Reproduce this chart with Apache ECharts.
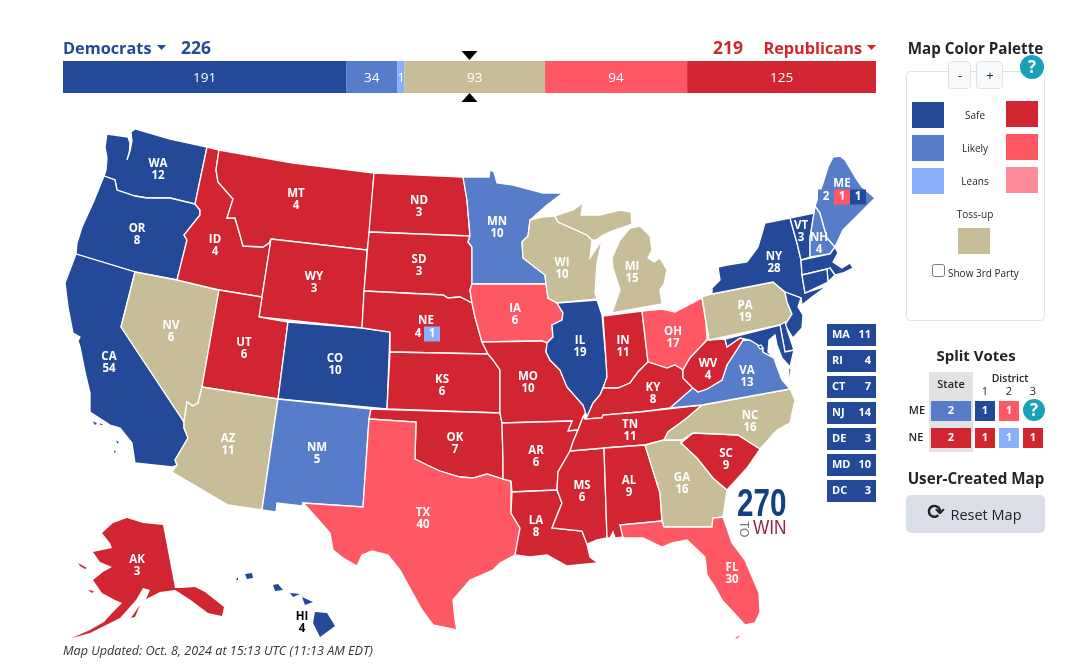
<!DOCTYPE html>
<html lang="en">
<head>
<meta charset="utf-8">
<title>2024 electoral map</title>
<script src="https://cdn.jsdelivr.net/npm/echarts@6/dist/echarts.min.js"></script>
<style>
html, body { margin: 0; padding: 0; background: #fff; }
#main { width: 1078px; height: 665px; }
</style>
</head>
<body>
<div id="main"></div>
<script>
// totals bar
var barValues = [191, 34, 1, 93, 94, 125];
var barRatings = ['D1', 'D2', 'D3', 'T', 'R2', 'R1'];
var demTotal = 226;
var repTotal = 219;
var totalVotes = 538;
var majority = 269;

// states drawn on the map
var stateNames = ['WA','OR','CA','NV','ID','MT','WY','UT','CO','AZ','NM','ND','SD','NE','KS','OK','TX','MN','IA','MO','AR','LA','WI','IL','MS','MI','IN','OH','KY','TN','AL','GA','FL','SC','NC','VA','WV','PA','NY','VT','NH','ME','AK','HI','MA','RI','CT','NJ','DE','MD','DC'];
var stateVotes = [12,8,54,6,4,4,3,6,10,11,5,3,3,4,6,7,40,10,6,10,6,8,10,19,6,15,11,17,8,11,9,16,30,9,16,13,4,19,28,3,4,2,3,4,11,4,7,14,3,10,3];
var stateRatings = ['D1','D1','D1','T','R1','R1','R1','R1','D1','T','D2','R1','R1','R1','R1','R1','R2','D2','R2','R1','R1','R1','T','D1','R1','T','R1','R2','R1','R1','R1','T','R2','R1','T','D2','R1','T','D1','D1','D2','D2','R1','D1','D1','D1','D1','D1','D1','D1','D1'];

// small northeastern states, listed beside the map
var smallNames = ['MA','RI','CT','NJ','DE','MD','DC'];
var smallVotes = [11, 4, 7, 14, 3, 10, 3];

// split votes: state, district 1, 2, 3
var meSplitVotes = [2, 1, 1];
var meSplitRatings = ['D2', 'D1', 'R2'];
var neSplitVotes = [2, 1, 1, 1];
var neSplitRatings = ['R1', 'R1', 'D3', 'R1'];
var neAtLarge = 4;

var colors = { D1: '#244999', D2: '#577cca', D3: '#8aafff', T: '#c8bd99', R1: '#d22532', R2: '#ff5865', R3: '#ff8b98' };
var font = '"Open Sans", sans-serif';
var ink = '#212529';

// traced outlines (map space, y down) and label anchor of every state
var outlines = {
  WA: ['135,129 131,132 132,141 130,151 127,160 129.5,151 130,143 128,137 107,134 105,147 107,158 106,170 104,176 115,180 117,190 135,196 147,198 170,198 195,204 207,147 170,139'],
  OR: ['104,176 93,203 82,227 77,243 76,254 135,272 177,280 187,240 184,235 200,215 200,210 195,204 170,198 147,198 135,196 117,190 115,180'],
  CA: ['76,254 65,283 68,307 73,333 80,337 78,341 80,347 85,372 90,393 90,412 110,425 120,428 132,443 135,463 172,467 177,465 175,460 188,438 184,428 184,422 121,327 135,272', '91,420 98,423 95,426', '99,422 105,425 100,426', '115,439 120,442 117,445', '113,448 117,452 114,454'],
  NV: ['135,272 177,280 219,290 202,387 198,403 193,406 187,402 184,422 121,327'],
  ID: ['207,147 219,150 216,170 218,182 233,199 227,218 235,218 240,235 243,246 263,247 269,243 271,239 262,297 219,290 177,280 187,240 184,235 200,215 200,210 195,204'],
  MT: ['219,150 293,163 374,173 370,232 367,250 271,239 269,243 263,247 243,246 240,235 235,218 227,218 233,199 218,182 216,170'],
  WY: ['271,239 367,250 362,328 259,317 262,297'],
  UT: ['219,290 262,297 259,317 288,322 278,399 202,387'],
  CO: ['288,322 362,328 390,332 387,409 278,399'],
  AZ: ['202,387 278,399 262,510 228,505 172,472 177,465 175,460 188,438 184,428 184,422 187,402 193,406 198,403'],
  NM: ['278,399 371,409 369,419 363,507 303,503 302,506 277,503 276,512 262,510'],
  ND: ['374,173 463,177 467,200 470,236 369,232'],
  SD: ['369,232 470,236 468,242 472,247 472,284 470,290 472,303 460,297 448,298 443,295 364,291'],
  NE: ['364,291 443,295 448,298 460,297 472,303 475,317 482,342 488,354 390,352 390,332 362,328'],
  KS: ['390,352 488,354 493,360 500,370 500,413 387,409'],
  OK: ['371,409 500,413 502,423 503,460 503,479 487,474 473,478 460,477 440,471 427,465 415,459 416,422 369,419'],
  TX: ['369,419 416,422 415,459 427,465 440,471 460,477 473,478 487,474 503,479 511,481 511,513 520,528 515,555 500,563 493,570 470,580 453,600 455,620 457,630 433,625 422,610 400,570 388,555 372,551 362,555 357,566 343,558 333,550 330,533 307,507 303,503 363,507'],
  MN: ['463,177 489,177 490,170 494,172 497,183 513,185 543,193 563,193 547,205 530,220 528,236 522,242 523,258 545,275 546,284 472,284 472,247 468,242 470,236 467,200'],
  IA: ['472,284 546,284 548,298 557,303 563,313 562,320 552,325 553,337 547,343 542,341 482,342 475,317 472,303 470,290'],
  MO: ['482,342 542,341 547,343 546,352 550,360 560,370 567,387 583,405 587,410 583,417 578,430 568,431 572,421 502,423 500,413 500,370 493,360 488,354'],
  AR: ['502,423 572,421 568,431 578,430 573,442 570,451 558,472 557,490 512,492 511,481 503,479 503,460'],
  LA: ['512,492 557,490 562,503 552,528 582,531 587,544 590,557 598,563 577,565 567,566 547,555 530,557 515,555 520,528 511,513'],
  WI: ['530,220 542,217 555,216 558,222 587,235 592,240 590,258 602,240 597,263 595,293 597,299 557,303 548,298 546,284 545,275 523,258 522,242 528,236'],
  IL: ['557,303 597,300 602,315 606,360 607,377 603,388 600,395 593,403 587,417 583,405 567,387 560,370 550,360 546,352 547,343 553,337 552,325 562,320 563,313'],
  MS: ['570,451 604,448 607,538 597,540 587,544 582,531 552,528 562,503 557,490 558,472'],
  MI: ['555,216 573,210 583,203 581,215 600,215 620,210 631,212 632,224 612,231 603,235 596,240 592,240 587,235 558,222', '630,228 640,226 650,236 652,250 648,258 654,262 660,258 667,270 664,284 660,290 662,304 612,313 620,290 613,268 612,258 620,240'],
  IN: ['603,316 642,311 648,362 638,372 630,383 618,388 603,388 607,377 606,360'],
  OH: ['642,311 662,309 675,312 702,298 706,323 707,340 690,358 683,370 675,365 667,368 648,362'],
  KY: ['648,362 667,368 675,365 683,370 683,378 693,388 670,408 640,412 603,415 602,418 585,419 587,417 593,403 600,395 603,388 618,388 630,383 638,372'],
  TN: ['585,419 602,418 603,415 640,412 702,405 687,418 668,432 664,440 645,445 604,448 570,451 573,442 578,430 583,417'],
  AL: ['604,448 645,445 660,493 662,521 620,525 624,537 615,538 613,532 610,538 607,538'],
  GA: ['645,445 664,440 682,440 681,443 697,458 713,478 727,490 723,517 713,518 712,527 664,527 662,521 660,493'],
  FL: ['620,525 662,521 664,527 712,527 713,518 723,517 732,543 745,560 759,593 760,612 755,623 745,625 733,612 722,600 715,587 707,575 705,557 687,540 672,543 662,547 643,538 623,538', '732,639 743,633 738,639'],
  SC: ['681,443 693,433 718,434 738,435 760,449 747,468 727,490 713,478 697,458'],
  NC: ['702,405 790,389 795,400 790,423 777,430 760,449 738,435 718,434 693,433 682,440 664,440 668,432 687,418'],
  VA: ['670,408 693,388 698,392 707,389 722,380 727,365 738,348 743,340 750,340 763,348 763,352 774,358 777,367 782,380 790,389 702,405', '788,368 791,368 790,384'],
  WV: ['707,340 725,339 727,347 740,338 750,340 743,340 738,348 727,365 722,380 707,389 698,392 693,388 683,378 683,370 690,358'],
  PA: ['702,297 712,294 773,282 785,292 787,302 792,314 785,325 780,325 709,340'],
  NY: ['712,294 712,288 720,280 718,267 727,265 747,262 758,247 765,223 790,218 797,243 801,260 802,275 805,293 827,286 812,297 802,305 801,298 785,292 773,282'],
  VT: ['790,218 814,213 810,238 810,257 801,260 797,243'],
  NH: ['815,206 820,213 827,238 835,247 830,254 810,257 810,238 814,213'],
  ME: ['815,206 823,183 828,167 833,157 840,156 845,160 857,180 862,187 875,198 863,210 853,220 843,230 835,247 827,238 820,213'],
  AK: ['163,525 175,588 182,588 195,587 205,592 224,607 222,616 208,613 192,601 180,593 175,590 160,592 146,599 150,590 143,588 136,600 120,618 106,625 90,633 72,638 90,630 104,622 113,612 122,603 115,600 102,593 93,580 103,572 112,567 100,562 93,552 112,548 110,543 102,533 113,523 127,518 143,523', '78,563 87,568 85,569 80,566', '131,618 140,605 135,617', '88,590 94,591 92,593'],
  HI: ['315,612 327,613 335,626 320,637 313,623', '302,597 313,602 305,605', '290,593 300,594 293,597', '273,585 278,584 283,590 275,591', '245,574 252,573 253,578 247,579', '236,580 238,577 238,580'],
  MA: ['801,260 830,254 835,247 838,253 833,262 842,268 850,263 853,268 843,273 835,275 830,268 827,269 802,275'],
  RI: ['827,269 830,268 835,275 830,280 828,282'],
  CT: ['802,275 827,269 828,282 805,293'],
  NJ: ['785,292 801,298 798,307 803,315 802,328 793,338 785,325 792,314 787,302'],
  DE: ['780,325 785,322 788,332 794,350 785,352'],
  MD: ['725,339 780,325 785,352 794,350 790,367 782,358 777,345 775,335 769,340 768,352 774,358 763,352 763,348 750,340 740,338 727,347'],
  DC: ['758,346 761,345 763,348 760,349']
};
var anchors = {
  WA:[158,170], OR:[137,235], CA:[109,363], NV:[171,332], ID:[215,246], MT:[296,200], WY:[314,283], UT:[244,349], CO:[335,365], AZ:[228,445], NM:[317,454],
  ND:[419,207], SD:[419,266], NE:[426,328], KS:[442,386], OK:[455,444], TX:[423,519], MN:[497,228], IA:[515,315], MO:[528,383], AR:[536,457], LA:[536,527],
  WI:[562,269], IL:[580,347], MS:[582,492], MI:[632,273], IN:[623,347], OH:[673,338], KY:[653,394], TN:[630,431], AL:[629,487], GA:[682,484], FL:[732,574],
  SC:[726,460], NC:[750,422], VA:[747,377], WV:[708,370], PA:[745,312], NY:[774,263], VT:[801,232], NH:[819,244], ME:[842,191], AK:[137,566], HI:[302,623],
  MA:[815,266], RI:[831,275], CT:[815,282], NJ:[795,315], DE:[788,340], MD:[745,337], DC:[760,347]
};

function ring(str) {
  var pts = str.split(' ').map(function (p) { return p.split(',').map(Number); });
  pts.push(pts[0]);
  return [pts];
}

var usGeo = {
  type: 'FeatureCollection',
  features: stateNames.map(function (name) {
    return {
      type: 'Feature',
      properties: { name: name, cp: anchors[name] },
      geometry: { type: 'MultiPolygon', coordinates: outlines[name].map(ring) }
    };
  })
};
echarts.registerMap('us', usGeo);

var mapData = stateNames.map(function (name, i) {
  var item = { name: name, value: stateVotes[i], itemStyle: { areaColor: colors[stateRatings[i]] } };
  if (smallNames.indexOf(name) >= 0) item.label = { show: false };
  if (name === 'HI') item.label = { color: '#000' };
  // no neighbours here, so no white edge eating into the thin parts
  if (name === 'HI' || name === 'AK') item.itemStyle.borderWidth = 0;
  return item;
});

function mapLabel(p) {
  if (p.name === 'ME') return 'ME\n{d2|' + stateVotes[stateNames.indexOf('ME')] + '}{r2|' + meSplitVotes[2] + '}{d1|' + meSplitVotes[1] + '}';
  if (p.name === 'NE') return 'NE\n{n|' + neAtLarge + '}{d3|' + neSplitVotes[2] + '}';
  return p.name + '\n' + p.value;
}

function boxText(bg) {
  return { backgroundColor: bg, color: '#fff', width: 16, height: 15, align: 'center', verticalAlign: 'middle', lineHeight: 15, fontWeight: 'bold', fontSize: 11.5, fontFamily: font };
}

// graphic helpers
function txt(x, y, text, f, fill, align) {
  return { type: 'text', silent: true, style: { x: x, y: y, text: text, font: f + ' ' + font, fill: fill || ink, textAlign: align || 'center', textVerticalAlign: 'middle' } };
}
function box(x, y, w, h, fill, stroke, r) {
  return { type: 'rect', silent: true, shape: { x: x, y: y, width: w, height: h, r: r || 0 }, style: { fill: fill, stroke: stroke || null, lineWidth: stroke ? 1 : 0 } };
}
function tri(points) {
  return { type: 'polygon', silent: true, shape: { points: points }, style: { fill: '#000' } };
}
function caret(x, y, fill) {
  return { type: 'polygon', silent: true, shape: { points: [[x, y], [x + 9, y], [x + 4.5, y + 5]] }, style: { fill: fill } };
}
function help(x, y, r) {
  return [
    { type: 'circle', silent: true, shape: { cx: x, cy: y, r: r }, style: { fill: '#17a2b8' } },
    txt(x, y + 1, '?', 'bold 17px', '#fff')
  ];
}
function logoText(x, y, text, f, fill, scaleX, rotation) {
  return { type: 'text', silent: true, x: x, y: y, scaleX: scaleX, rotation: rotation || 0, style: { x: 0, y: 0, text: text, font: f + ' "Liberation Sans"', fill: fill, textAlign: 'left', textVerticalAlign: 'middle' } };
}

var g = [];
// header above the bar
g.push(txt(63, 49, 'Democrats', 'bold 16.3px', colors.D1, 'left'));
g.push(caret(157, 45, colors.D1));
g.push(txt(181, 49, String(demTotal), 'bold 17.5px', colors.D1, 'left'));
g.push(txt(743, 49, String(repTotal), 'bold 17.5px', colors.R1, 'right'));
g.push(txt(862, 49, 'Republicans', 'bold 16.3px', colors.R1, 'right'));
g.push(caret(867, 45, colors.R1));

// 269 markers
var midX = 63 + 813 * majority / totalVotes;
g.push(tri([[midX - 8, 51], [midX + 8, 51], [midX, 60]]));
g.push(tri([[midX - 8, 102], [midX + 8, 102], [midX, 93]]));

// palette panel
g.push(txt(975.5, 50, 'Map Color Palette', 'bold 15.2px'));
g.push(box(906.5, 71.5, 138, 249, '#fff', '#dee2e6', 4));
g.push(box(948.5, 61.5, 22, 27, '#f8f9fa', '#dee2e6', 3));
g.push(txt(960, 76, '-', '13px'));
g.push(box(976.5, 61.5, 26, 27, '#f8f9fa', '#dee2e6', 3));
g.push(txt(990, 76, '+', '13px'));
g = g.concat(help(1032, 67, 12));
['Safe', 'Likely', 'Leans'].forEach(function (label, i) {
  var y = 102 + 33 * i;
  g.push(box(912, y, 32, 26, colors['D' + (i + 1)]));
  g.push(box(1006, y - 1, 32, 26, colors['R' + (i + 1)]));
  g.push(txt(975, y + 14, label, '10px'));
});
g.push(txt(975, 215, 'Toss-up', '10px'));
g.push(box(958, 228, 32, 26, colors.T));
g.push(box(932.5, 264.5, 12, 12, '#fff', '#767676', 2));
g.push(txt(948, 274, 'Show 3rd Party', '10px', ink, 'left'));

// states too small to label on the map
smallNames.forEach(function (name, i) {
  var y = 324 + 26 * i;
  g.push(box(827, y, 49, 22, colors.D1));
  g.push(txt(832, y + 11, name, 'bold 11px', '#fff', 'left'));
  g.push(txt(871, y + 11, String(smallVotes[i]), 'bold 11px', '#fff', 'right'));
});

// split votes table
g.push(txt(976, 357, 'Split Votes', 'bold 15px'));
g.push(box(929, 372, 44, 80, '#e2e2e2'));
g.push(txt(951, 385, 'State', '600 11px'));
g.push(txt(1010, 379, 'District', '600 10.5px'));
var colX = [975, 999, 1023];
colX.forEach(function (x, i) { g.push(txt(x + 10, 392, String(i + 1), '11px')); });
g.push(txt(917, 411, 'ME', '600 11px'));
g.push(txt(916, 438, 'NE', '600 11px'));
function splitRow(votes, ratings, y) {
  votes.forEach(function (v, i) {
    if (i === 0) {
      g.push(box(931, y, 40, 20, colors[ratings[i]]));
      g.push(txt(951, y + 10, String(v), 'bold 11px', '#fff'));
    } else {
      g.push(box(colX[i - 1], y, 20, 20, colors[ratings[i]]));
      g.push(txt(colX[i - 1] + 10, y + 10, String(v), 'bold 11px', '#fff'));
    }
  });
}
splitRow(meSplitVotes, meSplitRatings, 401);
splitRow(neSplitVotes, neSplitRatings, 428);
g = g.concat(help(1034, 410, 11));

// reset button
g.push(txt(976, 480, 'User-Created Map', 'bold 15.2px'));
g.push(box(906, 495, 139, 38, '#dae0e5', null, 5));
g.push({ type: 'text', silent: true, style: { x: 936, y: 514, text: '\u27F3', font: 'bold 21px "DejaVu Sans"', fill: ink, textAlign: 'center', textVerticalAlign: 'middle' } });
g.push(txt(986, 516, 'Reset Map', '14.5px'));

// logo
g.push(logoText(737, 505, '270', 'bold 39px', '#12417f', 0.76));
g.push(logoText(743, 521, 'TO', '12px', '#777', 1, -Math.PI / 2));
g.push(logoText(753, 528, 'WIN', '21px', '#8c2a3c', 0.82));

g.push(txt(63, 651, 'Map Updated: Oct. 8, 2024 at 15:13 UTC (11:13 AM EDT)', 'italic 12.6px', '#333', 'left'));

// bar data: cumulative start/end for each block
var barRows = [];
var running = 0;
barValues.forEach(function (v, i) {
  barRows.push([running, running + v, v, i]);
  running += v;
});
var sliver = barValues.indexOf(Math.min.apply(null, barValues));
var minBlock = 7; // a one vote block still needs room for its number

function renderBlock(params, api) {
  var i = api.value(3);
  var start = api.coord([api.value(0), 0]);
  var end = api.coord([api.value(1), 0]);
  var size = api.size([1, 1]);
  var deficit = minBlock - size[0] * barValues[sliver];
  var x0 = start[0], x1 = end[0];
  if (i === sliver) x0 = x1 - minBlock;
  if (i < sliver) { x1 -= deficit; if (i > 0) x0 -= deficit; }
  return {
    type: 'rect',
    shape: { x: x0, y: params.coordSys.y, width: x1 - x0, height: params.coordSys.height },
    style: { fill: colors[barRatings[i]] },
    textContent: { style: { text: String(api.value(2)), fill: '#fff', font: '13.5px ' + font } },
    textConfig: { position: 'inside', offset: [0, 1] }
  };
}

var chart = echarts.init(document.getElementById('main'), null, { renderer: 'canvas' });
chart.setOption({
  animation: false,
  grid: { left: 63, top: 61, width: 813, height: 32 },
  xAxis: { type: 'value', min: 0, max: totalVotes, show: false },
  yAxis: { type: 'category', data: ['votes'], show: false },
  graphic: { elements: g },
  series: [
    {
      type: 'custom',
      silent: true,
      data: barRows,
      encode: { x: [0, 1], y: 4 },
      renderItem: renderBlock
    },
    {
      type: 'map',
      map: 'us',
      silent: true,
      projection: { project: function (p) { return p; }, unproject: function (p) { return p; } },
      boundingCoords: [[0, 0], [1078, 665]],
      left: 0,
      top: 0,
      width: 1078,
      height: 665,
      roam: false,
      selectedMode: false,
      emphasis: { disabled: true },
      itemStyle: { borderColor: '#fff', borderWidth: 1.3 },
      label: {
        show: true,
        color: '#fff',
        fontFamily: font,
        fontWeight: 'bold',
        fontSize: 11.5,
        lineHeight: 12,
        align: 'center',
        formatter: mapLabel,
        rich: {
          d1: boxText(colors.D1),
          d2: boxText(colors.D2),
          d3: boxText(colors.D3),
          r2: boxText(colors.R2),
          n: { color: '#fff', width: 12, align: 'center', fontWeight: 'bold', fontSize: 11.5, fontFamily: font }
        }
      },
      data: mapData
    }
  ]
});
</script>
</body>
</html>
